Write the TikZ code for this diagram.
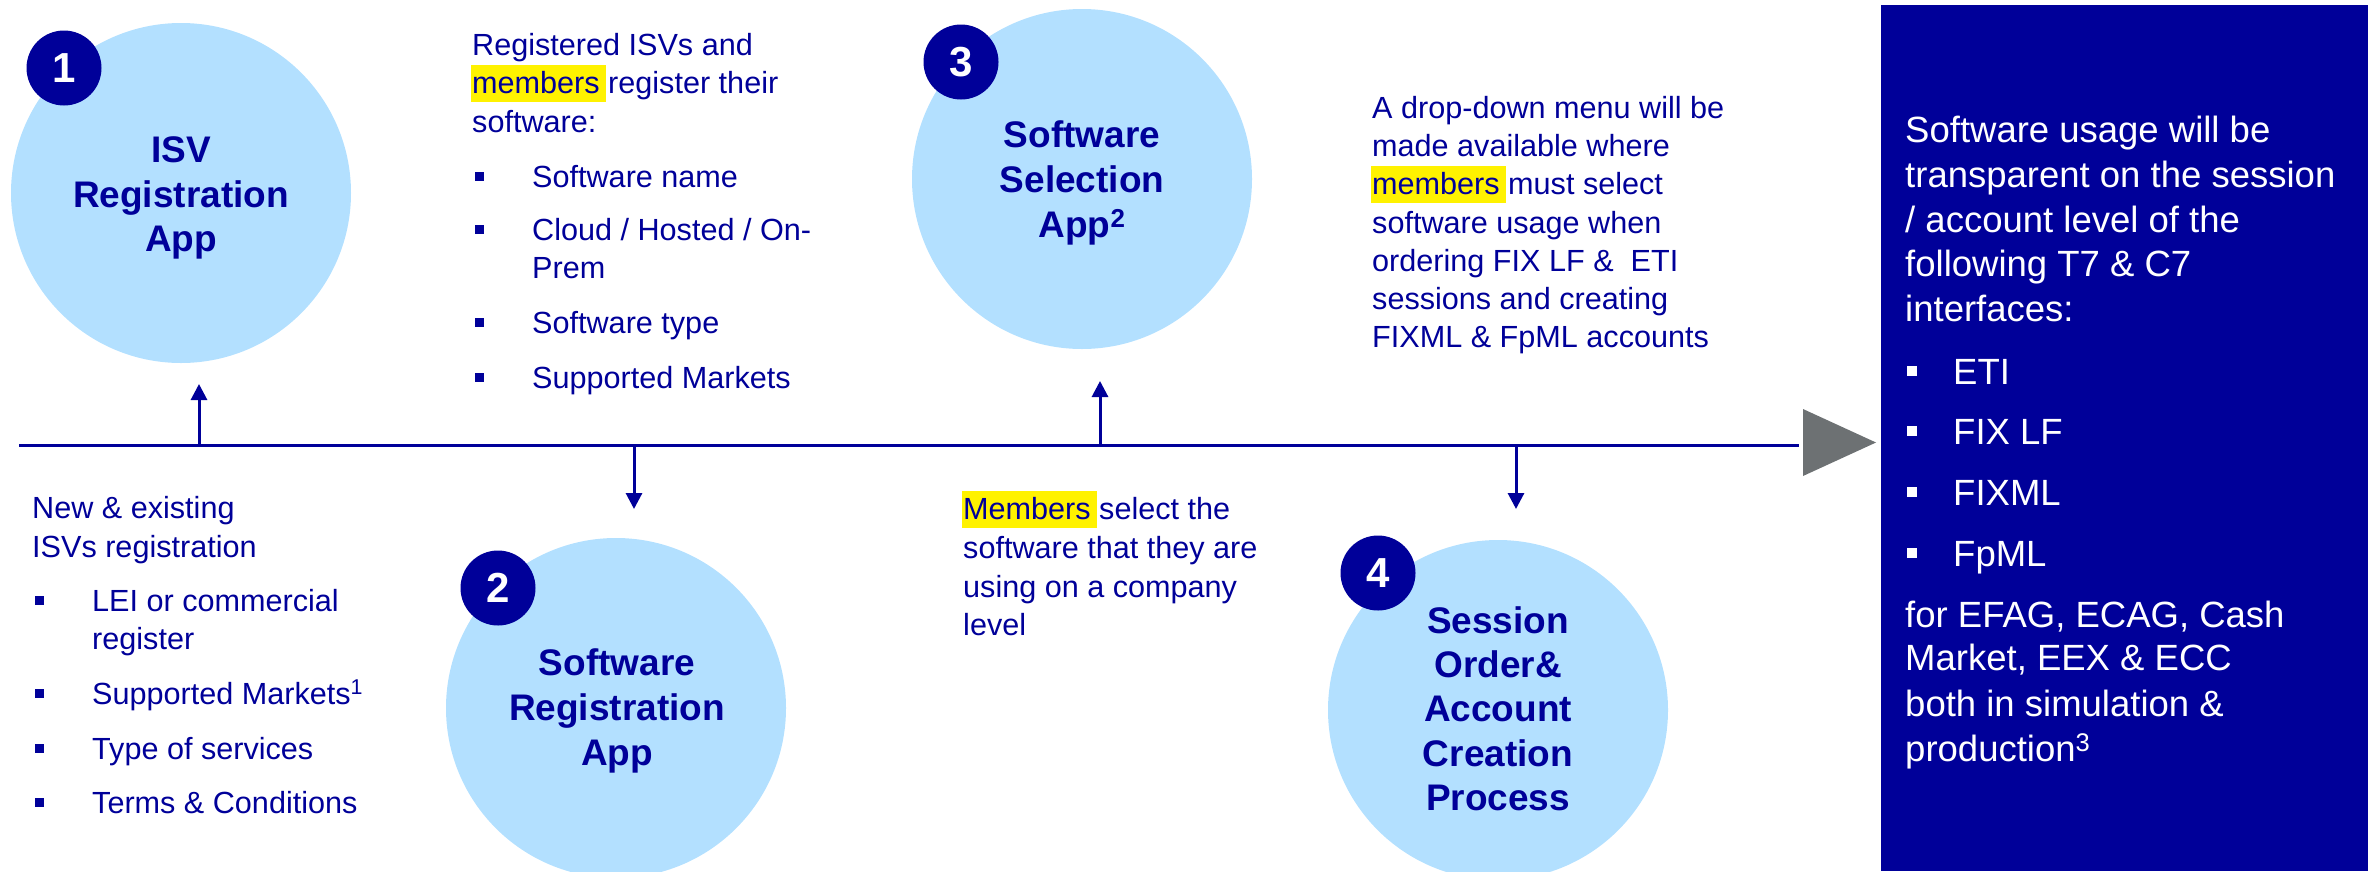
\documentclass[tikz,border=0pt]{standalone}
\usepackage{fontspec}
\setmainfont{Liberation Sans}
\usetikzlibrary{arrows.meta}
\definecolor{dkblue}{HTML}{000099}
\definecolor{ltblue}{HTML}{B3E0FF}
\definecolor{tgrey}{HTML}{6D7173}
\newcommand\hlw[1]{{\setlength{\fboxsep}{0pt}\kern-1pt\colorbox{yellow}{\kern1pt\rule[-9pt]{0pt}{37pt}#1\kern6pt}\kern-6pt}}
\newcommand\bsq{\makebox[57pt][l]{\rule[6.5pt]{9pt}{9pt}}}
\newcommand\wsq{\makebox[46pt][l]{\rule[8pt]{10pt}{10pt}}}
\begin{document}
\begin{tikzpicture}[x=1pt,y=-1pt,
  circ/.style={circle,fill=ltblue,minimum size=340pt,inner sep=0},
  badge/.style={circle,fill=dkblue,minimum size=75pt,inner sep=0,text=white,font=\fontsize{42pt}{42pt}\selectfont\bfseries},
  ctxt/.style={anchor=base,inner sep=0,text=dkblue,font=\fontsize{37pt}{45pt}\selectfont\bfseries},
  txt/.style={anchor=base west,inner sep=0,text=dkblue,font=\fontsize{30.6pt}{39pt}\selectfont},
  wtxt/.style={anchor=base west,inner sep=0,text=white,font=\fontsize{36.5pt}{45pt}\selectfont},
  tline/.style={draw=dkblue,line width=3pt},
  arr/.style={draw=dkblue,line width=3pt,-{Triangle[width=16pt,length=16pt]}}]
\useasboundingbox (0,0) rectangle (2376,871);
% right box
\fill[dkblue] (1881,5) rectangle (2368,871);
% circles
\node[circ] (c1) at (181,193) {};
\node[circ] (c2) at (616,708) {};
\node[circ] (c3) at (1082,179) {};
\node[circ] (c4) at (1498,710) {};
\node[badge] (b1) at (64,68) {1};
\node[badge] (b2) at (498,588) {2};
\node[badge] (b3) at (961,62) {3};
\node[badge] (b4) at (1378,573) {4};
% circle texts
\foreach \yy/\tx [count=\i] in {162/ISV,207/Registration,251/App}
  \node[ctxt] (ta\i) at (181,\yy) {\tx};
\foreach \yy/\tx [count=\i] in {675/Software,720/Registration,765/App}
  \node[ctxt] (tb\i) at (617,\yy) {\tx};
\foreach \yy/\tx [count=\i] in {147/Software,192/Selection,237/{App\textsuperscript{2}}}
  \node[ctxt] (tc\i) at (1082,\yy) {\tx};
\foreach \yy/\tx [count=\i] in {633/Session,677/{Order\&},721/Account,766/Creation,810/Process}
  \node[ctxt] (td\i) at (1498,\yy) {\tx};
% timeline
\coordinate (L0) at (19,445);
\coordinate (L1) at (1799,445);
\draw[tline] (L0) -- (L1);
\fill[tgrey] (1803,409) -- (1803,476) -- (1876,442.5) -- cycle;
\coordinate (p1) at (199,445); \coordinate (q1) at (199,384);
\coordinate (p2) at (634,445); \coordinate (q2) at (634,509);
\coordinate (p3) at (1100,445); \coordinate (q3) at (1100,381);
\coordinate (p4) at (1516,445); \coordinate (q4) at (1516,509);
\draw[arr] (p1) -- (q1);
\draw[arr] (p2) -- (q2);
\draw[arr] (p3) -- (q3);
\draw[arr] (p4) -- (q4);
% block A
\node[txt] (a1) at (472,55) {Registered ISVs and};
\node[txt] (a2) at (472,93) {\hlw{members} register their};
\node[txt] (a3) at (472,132) {software:};
\node[txt] (a4) at (475,187) {\bsq Software name};
\node[txt] (a5) at (475,240) {\bsq Cloud / Hosted / On-};
\node[txt] (a6) at (532,278) {Prem};
\node[txt] (a7) at (475,333) {\bsq Software type};
\node[txt] (a8) at (475,388) {\bsq Supported Markets};
% block B
\node[txt] (n1) at (32,518) {New \& existing};
\node[txt] (n2) at (32,557) {ISVs registration};
\node[txt] (n3) at (35,611) {\bsq LEI or commercial};
\node[txt] (n4) at (92,649) {register};
\node[txt] (n5) at (35,704) {\bsq Supported Markets\textsuperscript{1}};
\node[txt] (n6) at (35,759) {\bsq Type of services};
\node[txt] (n7) at (35,813) {\bsq Terms \& Conditions};
% block C
\node[txt] (m1) at (963,519) {\hlw{Members} select the};
\node[txt] (m2) at (963,558) {software that they are};
\node[txt] (m3) at (963,597) {using on a company};
\node[txt] (m4) at (963,635) {level};
% block D
\node[txt] (d1) at (1372,118) {A drop-down menu will be};
\node[txt] (d2) at (1372,156) {made available where};
\node[txt] (d3) at (1372,194) {\hlw{members} must select};
\node[txt] (d4) at (1372,233) {software usage when};
\node[txt] (d5) at (1372,271) {ordering FIX LF \& \ ETI};
\node[txt] (d6) at (1372,309) {sessions and creating};
\node[txt] (d7) at (1372,347) {FIXML \& FpML accounts};
% block E (box)
\node[wtxt] (e1) at (1905,142) {Software usage will be};
\node[wtxt] (e2) at (1905,187) {transparent on the session};
\node[wtxt] (e3) at (1905,232) {/ account level of the};
\node[wtxt] (e4) at (1905,276) {following T7 \& C7};
\node[wtxt] (e5) at (1905,321) {interfaces:};
\node[wtxt] (e6) at (1907,384) {\wsq ETI};
\node[wtxt] (e7) at (1907,444) {\wsq FIX LF};
\node[wtxt] (e8) at (1907,505) {\wsq FIXML};
\node[wtxt] (e9) at (1907,566) {\wsq FpML};
\node[wtxt] (e10) at (1905,627) {for EFAG, ECAG, Cash};
\node[wtxt] (e11) at (1905,670) {Market, EEX \& ECC};
\node[wtxt] (e12) at (1905,716) {both in simulation \&};
\node[wtxt] (e13) at (1905,761) {production\textsuperscript{3}};
\end{tikzpicture}
\end{document}
